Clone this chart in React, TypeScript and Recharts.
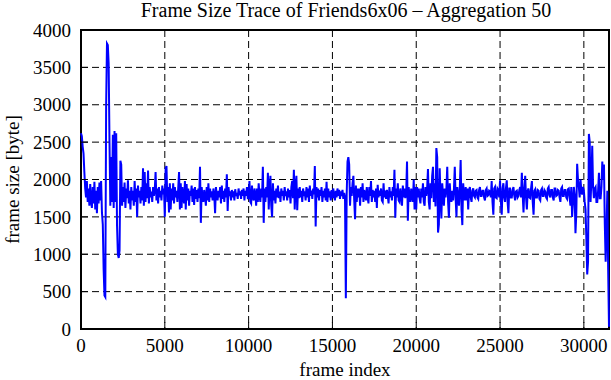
import { CartesianGrid, Line, LineChart, ReferenceArea, XAxis, YAxis } from "recharts";

// aggregated frame sizes (aggregation 50), one value every 50 frames
const FRAME_STEP = 50;
const seg0 = [
  2620, 2580, 2440, 2350, 2100, 1880, 1760, 1980, 1700, 1880, 1650, 1940, 1720, 1620, 1900, 1680, 1970, 1600, 1850, 1550,
  1900, 1680, 1960, 1720, 1980, 1560, 1400, 800, 450, 430, 3000, 3820, 3800, 3550, 2500, 1650, 2300, 1700, 2600, 1620,
  2650, 1700, 2620, 1380, 1000, 950, 1050, 2250, 2200, 1650, 1900, 1700, 1960, 1620, 1880, 1750, 1990, 1680, 1850, 1600,
  1900, 1720, 1850, 1650, 1980, 1700, 1880, 1500, 1920, 1760, 1850, 1680, 1900, 1720, 2150, 1650, 2100, 1700, 1950, 1750,
  2120, 1680, 1900, 1760, 1840, 1700, 1900, 1780, 1860, 2100, 1720, 1880, 1680, 1900, 1760, 1850, 1720, 1920, 1800, 1880,
];
const seg1 = [
  1500, 2150, 2180, 1700, 1900, 1560, 1950, 1600, 1880, 1720, 1950, 1680, 1900, 1760, 1850, 1700, 1880, 2100, 1600, 1950,
  1620, 1900, 1750, 1680, 1980, 1600, 1940, 1720, 1880, 1650, 1850, 1780, 1920, 1700, 1880, 1660, 1900, 1740, 1860, 1700,
  1880, 1750, 2170, 1420, 1900, 1760, 1700, 1860, 1780, 1650, 1900, 1720, 1950, 1700, 1880, 1760, 1840, 1720, 1880, 1790,
  1550, 1900, 1780, 1720, 1850, 1760, 1900, 1680, 1920, 1740, 1850, 1700, 1880, 1760, 2070, 1580, 1900, 1780, 1840, 1720,
  1860, 1760, 1840, 1720, 1870, 1780, 1820, 1740, 1880, 1790, 1840, 1740, 1860, 1780, 1880, 1720, 1850, 1780, 1900, 1750,
];
const seg2 = [
  1750, 1980, 1700, 1680, 1920, 1760, 1720, 1880, 1800, 1650, 1880, 1700, 1950, 1780, 1700, 1880, 1760, 2170, 1420, 1880,
  1700, 1900, 1760, 2090, 1600, 1880, 2050, 1650, 1500, 1950, 1720, 1850, 1680, 1880, 1760, 1920, 1750, 1840, 1700, 1880,
  1780, 1850, 1720, 1900, 1780, 1840, 1720, 1880, 1760, 1860, 1680, 1900, 1980, 1750, 2130, 1600, 1900, 2050, 1590, 1880,
  1750, 1900, 1760, 1850, 1700, 1880, 1780, 1840, 1720, 1900, 1760, 1880, 1700, 1920, 1780, 1850, 1740, 1880, 1800, 2180,
  1370, 1900, 1760, 1880, 1720, 1860, 1780, 1900, 1700, 1850, 1760, 1880, 1720, 1970, 1700, 1880, 1760, 1840, 1720, 1860,
];
const seg3 = [
  1750, 1880, 1780, 1720, 1850, 1760, 1880, 1780, 1860, 1740, 1840, 1780, 1860, 1740, 1820, 1760, 410, 1800, 2240, 2300,
  2200, 1650, 1900, 1780, 1950, 2050, 1720, 1470, 1920, 1700, 1880, 1760, 1880, 1650, 1900, 1760, 1950, 1700, 1860, 1780,
  1720, 1900, 1760, 1680, 1900, 1780, 1980, 1700, 1860, 1760, 1850, 1700, 1880, 1620, 1930, 1760, 1850, 1780, 1880, 1720,
  1700, 1950, 1760, 1850, 1740, 1860, 1780, 1680, 1900, 1760, 1840, 1720, 1900, 1780, 2130, 1490, 1880, 1760, 1950, 1720,
  1700, 1880, 1780, 1650, 1920, 1760, 1880, 1750, 1820, 2240, 1450, 1900, 1780, 1700, 1880, 1760, 1700, 2000, 1600, 1900,
];
const seg4 = [
  1600, 1900, 1760, 1880, 1750, 1680, 1880, 1760, 1950, 1700, 1650, 1900, 1780, 1880, 2140, 1700, 1600, 1950, 1750, 2050,
  2170, 1700, 1950, 1640, 2420, 2300, 1290, 1400, 2150, 1750, 1480, 1950, 1800, 1650, 1880, 1760, 1880, 2170, 1700, 1490,
  1950, 1760, 1700, 1850, 1720, 1880, 2170, 1750, 1500, 1900, 1780, 1650, 1900, 2260, 1600, 1390, 1950, 1800, 1720, 1900,
  1720, 1880, 1600, 1850, 1900, 1760, 1700, 1850, 1880, 1780, 1760, 1850, 1860, 1760, 1740, 1860, 1900, 1780, 1780, 1850,
  1850, 1760, 1720, 1860, 1880, 1780, 1790, 1850, 1840, 1760, 1980, 1700, 1530, 1880, 1900, 1760, 1750, 1880, 1860, 1760,
];
const seg5 = [
  1990, 1700, 1530, 1880, 1950, 1760, 1700, 1880, 1990, 1700, 1550, 1880, 1880, 1760, 1760, 1860, 1900, 1780, 1720, 1840,
  1850, 1760, 1780, 1860, 1900, 1760, 2090, 1800, 1560, 1880, 2050, 1760, 1600, 1850, 1880, 1760, 1750, 1880, 1980, 1700,
  1530, 1850, 1870, 1760, 1760, 1860, 1850, 1740, 1720, 1860, 1880, 1780, 1780, 1860, 1840, 1760, 1740, 1880, 1900, 1790,
  1760, 1860, 1860, 1760, 1720, 1880, 1880, 1780, 1790, 1860, 1850, 1760, 1700, 1880, 1900, 1780, 1780, 1860, 1860, 1760,
  1740, 1870, 1880, 1760, 1650, 1900, 1500, 1700, 1900, 1800, 1280, 1550, 2210, 2000, 1900, 1760, 2000, 1850, 1800, 1900,
];
const seg6 = [
  1850, 1700, 1600, 1200, 730, 900, 2610, 2500, 1700, 2000, 2450, 1900, 1750, 1880, 1900, 1700, 1700, 1850, 2090, 1750,
  1750, 1900, 2240, 2000, 2200, 1400, 900, 1300, 1850, 800, 30,
];

const xTicks = [0, 5000, 10000, 15000, 20000, 25000, 30000];
const yTicks = [0, 500, 1000, 1500, 2000, 2500, 3000, 3500, 4000];
const X_MAX = 31500;

const sizes = [...seg0, ...seg1, ...seg2, ...seg3, ...seg4, ...seg5, ...seg6];
const data = sizes.map((size, i) => ({ frame: i * FRAME_STEP, size }));

const FONT = "'Liberation Serif', 'Times New Roman', serif";
const tickStyle = { fill: "#000", fontSize: 19, fontFamily: FONT };

export default function App() {
  return (
    <div style={{ position: "absolute", left: 0, top: 0, width: 611, height: 380, background: "#fff" }}>
      <div
        style={{
          position: "absolute",
          left: 0,
          top: 0,
          width: 692,
          textAlign: "center",
          fontFamily: FONT,
          fontSize: 20,
          lineHeight: "20px",
        }}
      >
        Frame Size Trace of Friends6x06 – Aggregation 50
      </div>
      <LineChart width={611} height={380} data={data} margin={{ top: 30, right: 2, bottom: 0, left: 0 }}>
        <CartesianGrid stroke="#000" strokeDasharray="7 4" horizontalValues={yTicks} verticalValues={xTicks} />
        <XAxis
          dataKey="frame"
          type="number"
          domain={[0, X_MAX]}
          ticks={xTicks}
          height={51}
          tickSize={-7}
          tickMargin={17}
          tick={tickStyle}
          stroke="#000"
          axisLine={false}
          label={{ value: "frame index", position: "insideBottom", offset: 4, fill: "#000", fontSize: 19, fontFamily: FONT }}
        />
        <XAxis
          xAxisId="top"
          orientation="top"
          dataKey="frame"
          type="number"
          domain={[0, X_MAX]}
          ticks={xTicks}
          height={0}
          tickSize={-7}
          tick={() => <g />}
          stroke="#000"
          axisLine={false}
        />
        <YAxis
          type="number"
          domain={[0, 4000]}
          ticks={yTicks}
          width={81}
          tickSize={-7}
          tickMargin={17}
          tick={tickStyle}
          stroke="#000"
          axisLine={false}
          label={{
            value: "frame size [byte]",
            angle: -90,
            position: "insideLeft",
            offset: 12,
            fill: "#000",
            fontSize: 19,
            fontFamily: FONT,
            style: { textAnchor: "middle" },
          }}
        />
        <YAxis
          yAxisId="right"
          orientation="right"
          type="number"
          domain={[0, 4000]}
          ticks={yTicks}
          width={0}
          tickSize={-7}
          tick={() => <g />}
          stroke="#000"
          axisLine={false}
        />
        <Line
          type="linear"
          dataKey="size"
          stroke="#0000ff"
          strokeWidth={2}
          dot={false}
          isAnimationActive={false}
        />
        <ReferenceArea
          x1={0}
          x2={X_MAX}
          y1={0}
          y2={4000}
          fill="none"
          stroke="#000"
          strokeWidth={2}
          ifOverflow="visible"
        />
      </LineChart>
    </div>
  );
}
